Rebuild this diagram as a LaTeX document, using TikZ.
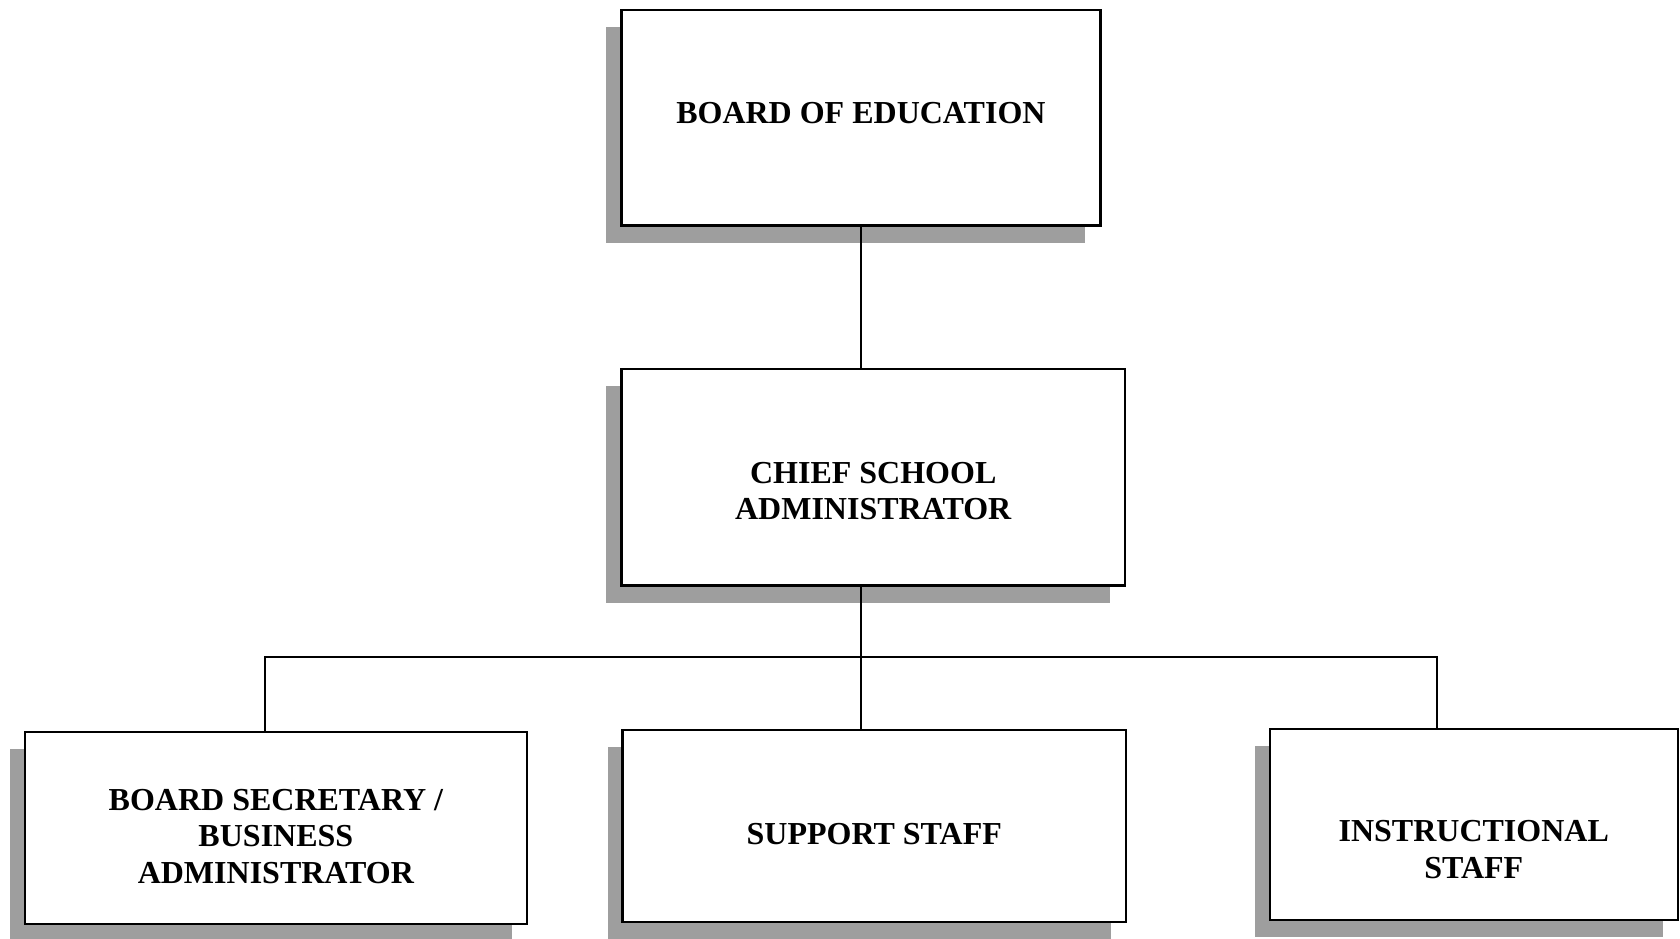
\documentclass[tikz,border=0pt]{standalone}
\usepackage{fontspec}
\setmainfont{Liberation Serif}
\usetikzlibrary{shadows}
\newcommand{\pushdown}[1]{\rule{0pt}{#1}}
\newcommand{\pushup}[1]{\rule[-#1]{0pt}{#1}}

\begin{document}
\begin{tikzpicture}[draw=black,line width=0.5pt,
  post/.style={draw=black,line width=0.6pt,fill=white,inner sep=0pt,align=center,
    font=\fontsize{8.5}{9.7}\selectfont\bfseries,
    drop shadow={shadow xshift=-0.14cm,shadow yshift=-0.16cm,fill=black!38,opacity=1}}]
\useasboundingbox (0,0) rectangle (15.68,8.755);
\node[post,minimum width=4.47cm,minimum height=2.01cm] (boe) at (8.035,7.655) {BOARD OF EDUCATION\pushup{2.5pt}};
\node[post,minimum width=4.70cm,minimum height=2.02cm] (csa) at (8.15,4.30) {\pushdown{13pt}CHIEF SCHOOL\\ADMINISTRATOR};
\node[post,minimum width=4.69cm,minimum height=1.79cm] (bsba) at (2.575,1.025) {\pushdown{10pt}BOARD SECRETARY /\\BUSINESS\\ADMINISTRATOR};
\node[post,minimum width=4.70cm,minimum height=1.79cm] (sup) at (8.16,1.045) {\pushdown{10pt}SUPPORT STAFF};
\node[post,minimum width=3.81cm,minimum height=1.78cm] (instr) at (13.755,1.06) {\pushdown{19pt}INSTRUCTIONAL\\STAFF};
\coordinate (bus) at (8.05,2.62);
\draw (boe.south) -- (boe.south |- csa.north);
\draw (boe.south |- csa.south) -- (boe.south |- sup.north);
\draw ([xshift=-1.05mm]bsba.north) |- (bus) -| ([xshift=-3.45mm]instr.north);

\end{tikzpicture}
\end{document}
